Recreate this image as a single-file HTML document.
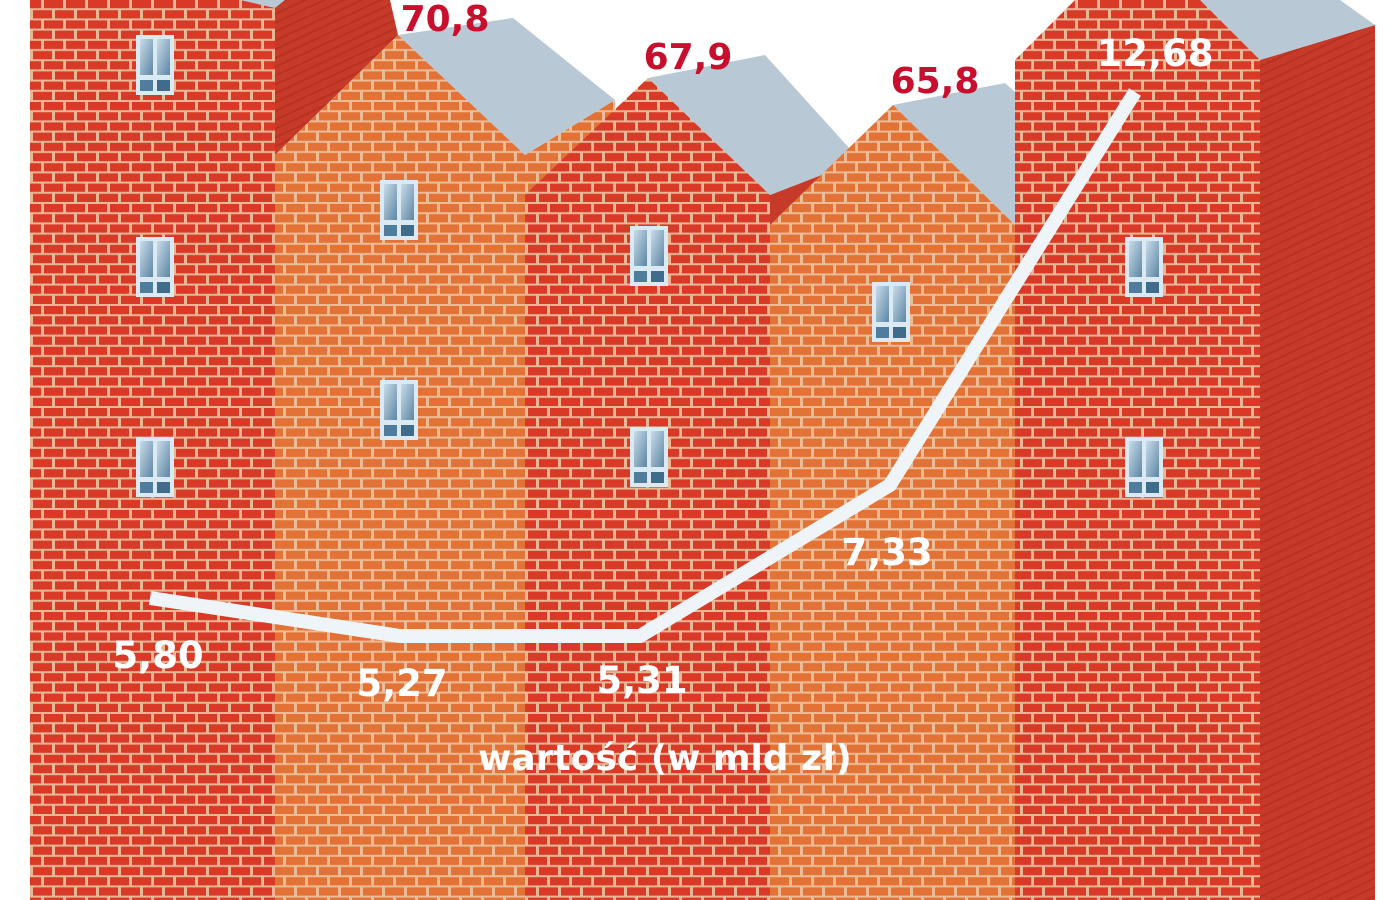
<!DOCTYPE html>
<html><head><meta charset="utf-8"><style>
html,body{margin:0;padding:0;background:#fff;}
svg{display:block}
text{font-family:"DejaVu Sans","Liberation Sans",sans-serif;font-weight:bold;}
</style></head><body>
<svg width="1400" height="900" viewBox="0 0 1400 900" xmlns="http://www.w3.org/2000/svg">
<defs>
<pattern id="br" width="22" height="20.4" patternUnits="userSpaceOnUse">
<rect width="22" height="20.4" fill="#e8b896"/>
<rect x="0" y="0" width="19" height="8.2" fill="#d93a27"/>
<rect x="11" y="10.2" width="19" height="8.2" fill="#d93a27"/>
<rect x="-11" y="10.2" width="19" height="8.2" fill="#d93a27"/>
</pattern>
<pattern id="bo" width="22" height="20.4" patternUnits="userSpaceOnUse">
<rect width="22" height="20.4" fill="#ecbc96"/>
<rect x="0" y="0" width="19" height="8.2" fill="#e37236"/>
<rect x="11" y="10.2" width="19" height="8.2" fill="#e37236"/>
<rect x="-11" y="10.2" width="19" height="8.2" fill="#e37236"/>
</pattern>
<pattern id="side" width="8" height="8" patternUnits="userSpaceOnUse" patternTransform="rotate(-25)">
<rect width="8" height="8" fill="#c63a29"/>
<rect width="8" height="2" fill="#b8321f"/>
</pattern>
<linearGradient id="gl" x1="0" y1="0" x2="1" y2="1">
<stop offset="0" stop-color="#c9dcea"/><stop offset="1" stop-color="#5d86a3"/>
</linearGradient>
<g id="win">
<rect x="0" y="0" width="38" height="60" fill="#dbe9f3"/>
<rect x="4" y="4" width="13" height="36" fill="url(#gl)"/>
<rect x="21" y="4" width="13" height="36" fill="url(#gl)"/>
<rect x="4" y="45" width="13" height="11" fill="#4f7d9b"/>
<rect x="21" y="45" width="13" height="11" fill="#3f6c8a"/>
</g>
</defs>

<polygon points="275,0 390,0 398,35 275,155" fill="url(#side)"/>
<rect x="30" y="0" width="245" height="900" fill="url(#br)"/>
<polygon points="240,0 285,0 275,8" fill="#b8c8d4"/>

<polygon points="525,155 615,100 615,200 525,200" fill="url(#bo)"/>
<polygon points="398,35 513,18 615,100 525,155" fill="#b8c8d4"/>
<polygon points="275,155 398,35 525,155 525,900 275,900" fill="url(#bo)"/>

<polygon points="770,195 860,160 860,240 770,240" fill="#c63a29"/>
<polygon points="648,78 765,55 860,160 770,195" fill="#b8c8d4"/>
<polygon points="525,195 648,78 770,195 770,900 525,900" fill="url(#br)"/>

<polygon points="893,105 1005,83 1015,92 1015,225" fill="#b8c8d4"/>
<polygon points="770,225 893,105 1015,225 1015,900 770,900" fill="url(#bo)"/>

<polygon points="1260,60 1375,25 1375,900 1260,900" fill="url(#side)"/>
<polygon points="1200,0 1340,0 1375,25 1260,60" fill="#b8c8d4"/>
<polygon points="1015,60 1075,0 1200,0 1260,60 1260,900 1015,900" fill="url(#br)"/>

<use href="#win" x="136" y="35"/>
<use href="#win" x="136" y="237"/>
<use href="#win" x="136" y="437"/>
<use href="#win" x="380" y="180"/>
<use href="#win" x="380" y="380"/>
<use href="#win" x="630" y="226"/>
<use href="#win" x="630" y="427"/>
<use href="#win" x="872" y="282"/>
<use href="#win" x="1125" y="237"/>
<use href="#win" x="1125" y="437"/>

<polyline points="150,598 400,636 640,636 890,485 1135,92" fill="none" stroke="#eef4f8" stroke-width="14" stroke-linejoin="miter"/>

<g fill="#c8102e" font-size="36" text-anchor="middle">
<text x="445" y="31">70,8</text>
<text x="688" y="69">67,9</text>
<text x="935" y="93">65,8</text>
</g>
<g fill="#fff" font-size="37" text-anchor="middle">
<text x="158" y="668">5,80</text>
<text x="402" y="696">5,27</text>
<text x="642" y="693">5,31</text>
<text x="887" y="565">7,33</text>
<text x="1155" y="66">12,68</text>
<text x="665" y="770" font-size="36">wartość (w mld zł)</text>
</g>
</svg>
</body></html>
